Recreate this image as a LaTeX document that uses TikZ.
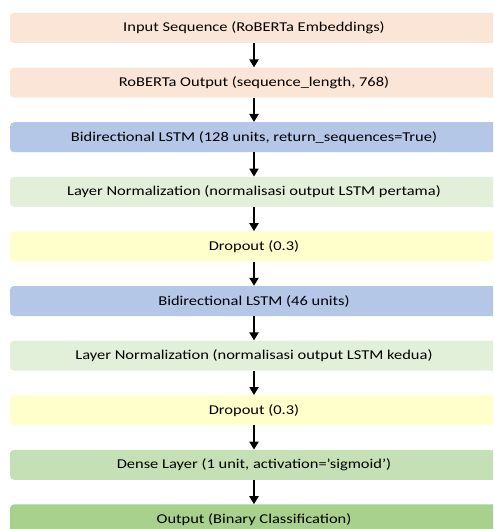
\documentclass[tikz,border=0pt]{standalone}
\usepackage{fontspec}
\setmainfont{Carlito}[FakeStretch=1.22]
\usetikzlibrary{positioning,arrows.meta}
\definecolor{peach}{HTML}{FBE5D6}
\definecolor{lstmblue}{HTML}{B4C7E7}
\definecolor{normgreen}{HTML}{E2F0D9}
\definecolor{dropyellow}{HTML}{FFFFCC}
\definecolor{densegreen}{HTML}{C5E0B4}
\definecolor{outgreen}{HTML}{A9D18E}
\begin{document}
\begin{tikzpicture}[x=1pt, y=1pt, node distance=24.2pt,
  every node/.style={rectangle, rounded corners=4pt, minimum width=488pt, minimum height=30pt, inner sep=0pt, font=\fontsize{13.5}{15}\selectfont},
  flow/.style={line width=2.5pt, -{Triangle[length=8pt, width=9pt]}}]
\clip (0,0) rectangle (493,-529);
\node[fill=peach] (L1) at (254,-28) {Input Sequence (RoBERTa Embeddings)};
\node[fill=peach, below=of L1] (L2) {RoBERTa Output (sequence\_length, 768)};
\node[fill=lstmblue, below=of L2] (L3) {Bidirectional LSTM (128 units, return\_sequences=True)};
\node[fill=normgreen, below=of L3] (L4) {Layer Normalization (normalisasi output LSTM pertama)};
\node[fill=dropyellow, below=of L4] (L5) {Dropout (0.3)};
\node[fill=lstmblue, below=of L5] (L6) {Bidirectional LSTM (46 units)};
\node[fill=normgreen, below=of L6] (L7) {Layer Normalization (normalisasi output LSTM kedua)};
\node[fill=dropyellow, below=of L7] (L8) {Dropout (0.3)};
\node[fill=densegreen, below=of L8] (L9) {Dense Layer (1 unit, activation='sigmoid')};
\node[fill=outgreen, below=of L9] (L10) {Output (Binary Classification)};
\draw[flow] (L1) -- (L2);
\draw[flow] (L2) -- (L3);
\draw[flow] (L3) -- (L4);
\draw[flow] (L4) -- (L5);
\draw[flow] (L5) -- (L6);
\draw[flow] (L6) -- (L7);
\draw[flow] (L7) -- (L8);
\draw[flow] (L8) -- (L9);
\draw[flow] (L9) -- (L10);
\end{tikzpicture}
\end{document}
